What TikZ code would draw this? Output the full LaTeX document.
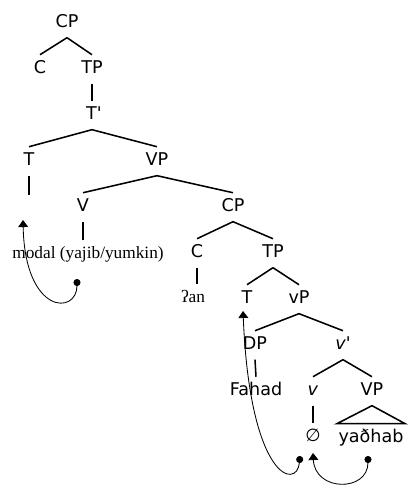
\documentclass[tikz,border=0pt]{standalone}
\usepackage{fontspec}
\setmainfont{Liberation Serif}
\newfontfamily\catfont{DejaVu Sans}[ItalicFont={* Oblique}]
\usetikzlibrary{arrows.meta}

\begin{document}
\begin{tikzpicture}[
  every node/.style={inner sep=0pt, text height=0.45cm, text depth=0.26cm, anchor=base},
  cat/.style={font=\catfont\fontsize{12.5}{14}\selectfont},
  word/.style={font=\fontsize{12.3}{14}\selectfont},
  branch/.style={line width=1.1pt},
  move/.style={line width=0.6pt, {Circle[length=5pt]}-{Triangle[width=7pt,length=5pt]}}
]
  \useasboundingbox (0,0) rectangle (10.2,-12.225);
  % matrix clause
  \node[cat] (cp1)  at (1.675,-0.675) {CP};
  \node[cat] (c1)   at (1.0,-1.825)   {C};
  \node[cat] (tp1)  at (2.3,-1.825)   {TP};
  \node[cat] (tbar) at (2.35,-2.975)  {T'};
  \node[cat] (t1)   at (0.725,-4.125) {T};
  \node[cat] (vp1)  at (3.925,-4.125) {VP};
  \coordinate (t1gap) at (0.725,-4.875);
  \node[cat] (v1)   at (2.075,-5.275) {V};
  \node[cat] (cp2)  at (5.825,-5.275) {CP};
  \node[word] (modal) at (2.2,-6.45) {modal (yajib/yumkin)};
  % embedded clause
  \node[cat] (c2)   at (4.925,-6.425) {C};
  \node[cat] (tp2)  at (6.825,-6.425) {TP};
  \node[word] (an)  at (4.825,-7.55)  {ʔan};
  \node[cat] (t2)   at (6.175,-7.575) {T};
  \node[cat] (lvp)  at (7.475,-7.575) {vP};
  \node[cat] (dp)   at (6.375,-8.725) {DP};
  \node[cat] (vbar) at (8.575,-8.725) {\textit{v}'};
  \node[cat] (fahad) at (6.4,-9.875)  {Fahad};
  \node[cat] (lv)   at (7.825,-9.875) {\textit{v}};
  \node[cat] (vp2)  at (9.3,-9.875)   {VP};
  \node[cat] (null) at (7.825,-11.025) {\textit{∅}};
  \node[cat] (yadhab) at (9.275,-11.05) {yaðhab};

  % branches
  \draw[branch] (cp1.south) -- (c1.north);
  \draw[branch] (cp1.south) -- (tp1.north);
  \draw[branch] (tp1.south) -- (tp1.south |- tbar.north);
  \draw[branch] (tp1.south |- tbar.south) -- (t1.north);
  \draw[branch] (tp1.south |- tbar.south) -- (vp1.north);
  \draw[branch] (t1.south) -- (t1gap);
  \draw[branch] (vp1.south) -- (v1.north);
  \draw[branch] (vp1.south) -- (cp2.north);
  \draw[branch] (v1.south) -- (v1.south |- modal.north);
  \draw[branch] (cp2.south) -- (c2.north);
  \draw[branch] (cp2.south) -- (tp2.north);
  \draw[branch] (c2.south) -- (c2.south |- an.north);
  \draw[branch] (tp2.south) -- (t2.north);
  \draw[branch] (tp2.south) -- (lvp.north);
  \draw[branch] (lvp.south) -- (dp.north);
  \draw[branch] (lvp.south) -- (vbar.north);
  \draw[branch] (dp.south) -- (fahad.north);
  \draw[branch] (vbar.south) -- (lv.north);
  \draw[branch] (vbar.south) -- (vp2.north);
  \draw[branch] (lv.south) -- (null.north);
  \draw[branch] (vp2.south) -- ([xshift=-1pt]yadhab.north west) -- ([xshift=1pt]yadhab.north east) -- cycle;

  % head movement
  \coordinate (modalfoot) at (1.925,-6.975);
  \coordinate (t1foot)    at (0.575,-5.5);
  \coordinate (lvfoot)    at (7.5,-11.4);
  \coordinate (t2foot)    at (6.075,-7.775);
  \coordinate (vfoot)     at (9.2,-11.4);
  \coordinate (nullfoot)  at (7.825,-11.325);
  \draw[move] (modalfoot) .. controls (1.925,-7.875) and (0.625,-7.875) .. (t1foot);
  \draw[move] (lvfoot) .. controls (7.425,-12.25) and (6.25,-12.0) .. (t2foot);
  \draw[move] (vfoot) .. controls (9.2,-12.3) and (7.875,-12.3) .. (nullfoot);
\end{tikzpicture}
\end{document}
